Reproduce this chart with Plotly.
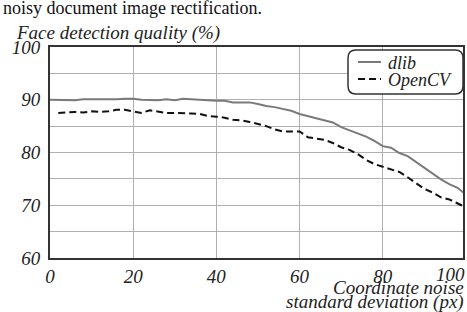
import plotly.graph_objects as go

x_dlib = list(range(0, 101, 2))
dlib = [90.0, 90.0, 89.9, 89.9, 90.1, 90.1, 90.0, 90.0, 90.1, 90.2, 90.2, 90.0, 90.0, 89.9, 90.1,
        89.9, 90.2, 90.1, 89.9, 89.8, 89.8, 89.8, 89.5, 89.5, 89.5, 89.2, 88.8, 88.6, 88.3, 87.9,
        87.3, 86.9, 86.5, 86.1, 85.7, 84.8, 84.2, 83.6, 83.0, 82.2, 81.2, 80.9, 79.9, 79.3, 78.2,
        77.2, 76.0, 74.9, 74.0, 73.3, 72.0]
x_opencv = list(range(2, 101, 2))
opencv = [87.5, 87.6, 87.7, 87.6, 87.8, 87.7, 87.8, 88.1, 88.1, 87.8, 87.5, 88.0, 87.7, 87.5,
          87.5, 87.5, 87.4, 87.3, 86.9, 86.8, 86.6, 86.2, 86.1, 85.8, 85.4, 85.0, 84.4, 84.0, 84.0,
          84.0, 82.9, 82.6, 82.4, 81.8, 81.0, 80.5, 79.7, 78.6, 77.8, 77.3, 76.8, 76.3, 75.3, 74.2,
          73.1, 72.4, 71.5, 71.1, 70.4, 69.6]
series_names = ["dlib", "OpenCV"]
y_ticks = [60, 65, 70, 75, 80, 85, 90, 95, 100]
y_labels = ["60", "", "70", "", "80", "", "90", "", "100"]
x_ticks = [0, 20, 40, 60, 80]
x_labels = ["0", "20", "40", "60", "80"]

FONT = "'Liberation Serif', 'Times New Roman', serif"
W, H = 467, 312
L, R, T, B = 50, 4, 47, 54
DLIB_COLOR, CV_COLOR = "#7a7a7a", "#111111"
CV_DASH = "7px,4px"

fig = go.Figure()
fig.add_trace(go.Scatter(x=x_dlib, y=dlib, mode="lines", name=series_names[0],
                         line=dict(color=DLIB_COLOR, width=2)))
fig.add_trace(go.Scatter(x=x_opencv, y=opencv, mode="lines", name=series_names[1],
                         line=dict(color=CV_COLOR, width=2, dash=CV_DASH)))

tickfont = dict(family=FONT, size=19, color="#222", style="italic")
fig.update_layout(
    width=W, height=H,
    margin=dict(l=L, r=R, t=T, b=B),
    paper_bgcolor="white", plot_bgcolor="white",
    font=dict(family=FONT, color="#222"),
    showlegend=False,
    xaxis=dict(range=[0, 99.3], tickvals=x_ticks, ticktext=x_labels, tickfont=tickfont,
               showgrid=True, gridcolor="#b0b0b0", gridwidth=1,
               showline=True, linecolor="#333", linewidth=2, mirror=True,
               ticks="", zeroline=False, automargin=False),
    yaxis=dict(range=[60, 100], tickvals=y_ticks, ticktext=y_labels, tickfont=tickfont,
               showgrid=True, gridcolor="#b0b0b0", gridwidth=1,
               showline=True, linecolor="#333", linewidth=2, mirror=True,
               ticks="", zeroline=False, automargin=False, ticklabelstandoff=4),
)

pw, ph = W - L - R, H - T - B
def px(xp): return (xp - L) / pw
def py(yp): return 1 - (yp - T) / ph

# rounded legend box
x0, x1, y0, y1, r = px(348), px(463), py(50), py(94), 8
rx, ry = r / pw, r / ph
path = (f"M {x0+rx},{y0} L {x1-rx},{y0} Q {x1},{y0} {x1},{y0-ry} "
        f"L {x1},{y1+ry} Q {x1},{y1} {x1-rx},{y1} L {x0+rx},{y1} Q {x0},{y1} {x0},{y1+ry} "
        f"L {x0},{y0-ry} Q {x0},{y0} {x0+rx},{y0} Z")
fig.add_shape(type="path", path=path, xref="paper", yref="paper",
              line=dict(color="#333", width=1.5), fillcolor="white", layer="above")
for name, yp, color, dash in [(series_names[0], 62, DLIB_COLOR, "solid"),
                              (series_names[1], 79, CV_COLOR, CV_DASH)]:
    fig.add_shape(type="line", xref="paper", yref="paper", x0=px(358), x1=px(381),
                  y0=py(yp), y1=py(yp), line=dict(color=color, width=2, dash=dash),
                  layer="above")
    fig.add_annotation(text=name, xref="paper", yref="paper", x=px(386), y=py(yp + 1),
                       xanchor="left", yanchor="middle", showarrow=False,
                       font=dict(family=FONT, size=18, color="#222", style="italic"))

fig.add_annotation(text="100", xref="paper", yref="paper", x=1, y=0, xanchor="right",
                   yanchor="top", xshift=4, yshift=-4, showarrow=False, font=tickfont)
fig.add_annotation(text="noisy document image rectification.", xref="paper", yref="paper",
                   x=px(1), y=py(8), xanchor="left", yanchor="middle", showarrow=False,
                   font=dict(family=FONT, size=18, color="#111"))
fig.add_annotation(text="Face detection quality (%)", xref="paper", yref="paper",
                   x=px(14), y=py(33), xanchor="left", yanchor="middle", showarrow=False,
                   font=dict(family=FONT, size=19, color="#222", style="italic"))
fig.add_annotation(text="Coordinate noise", xref="paper", yref="paper",
                   x=px(466), y=py(287), xanchor="right", yanchor="middle", showarrow=False,
                   font=dict(family=FONT, size=19, color="#222", style="italic"))
fig.add_annotation(text="standard deviation (px)", xref="paper", yref="paper",
                   x=px(466), y=py(302), xanchor="right", yanchor="middle", showarrow=False,
                   font=dict(family=FONT, size=19, color="#222", style="italic"))

fig.write_html("out.html", config={"displayModeBar": False},
               post_script="document.body.style.margin='0';")
